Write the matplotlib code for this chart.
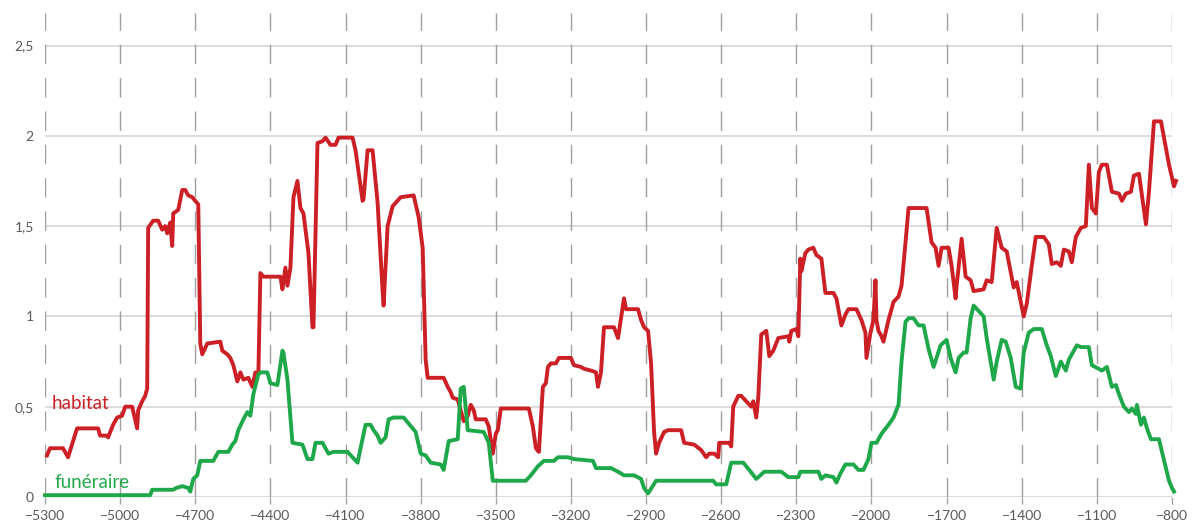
import matplotlib.pyplot as plt
from matplotlib.ticker import FuncFormatter

##### DATA #####
hab_years = [-5292, -5280, -5228, -5208, -5172, -5088, -5080, -5052, -5048, -5028,
             -5012, -4992, -4980, -4952, -4932, -4928, -4912, -4900, -4892, -4888,
             -4868, -4848, -4832, -4820, -4812, -4800, -4792, -4788, -4768, -4752,
             -4740, -4728, -4712, -4700, -4688, -4680, -4672, -4652, -4600, -4592,
             -4572, -4560, -4548, -4532, -4520, -4508, -4488, -4472, -4460, -4448,
             -4440, -4428, -4360, -4352, -4340, -4332, -4320, -4308, -4292, -4280,
             -4268, -4248, -4232, -4228, -4220, -4212, -4192, -4180, -4160, -4140,
             -4128, -4072, -4060, -4032, -4028, -4012, -3992, -3972, -3952, -3948,
             -3932, -3912, -3880, -3828, -3808, -3792, -3780, -3772, -3708, -3692,
             -3680, -3672, -3652, -3640, -3628, -3612, -3600, -3588, -3580, -3540,
             -3528, -3512, -3500, -3492, -3480, -3368, -3352, -3340, -3328, -3312,
             -3300, -3292, -3280, -3260, -3248, -3200, -3188, -3160, -3148, -3120,
             -3100, -3092, -3080, -3068, -3028, -3012, -3000, -2988, -2980, -2932,
             -2920, -2908, -2892, -2880, -2868, -2860, -2848, -2828, -2812, -2760,
             -2748, -2708, -2680, -2660, -2648, -2628, -2612, -2608, -2568, -2560,
             -2552, -2532, -2520, -2500, -2480, -2472, -2460, -2452, -2440, -2420,
             -2408, -2392, -2372, -2332, -2328, -2320, -2300, -2292, -2284, -2280,
             -2264, -2252, -2232, -2220, -2200, -2184, -2152, -2140, -2120, -2104,
             -2092, -2060, -2040, -2024, -2020, -2004, -1992, -1984, -1980, -1972,
             -1960, -1952, -1932, -1912, -1892, -1880, -1864, -1852, -1780, -1760,
             -1744, -1732, -1720, -1692, -1680, -1664, -1660, -1640, -1624, -1604,
             -1592, -1552, -1540, -1520, -1500, -1480, -1460, -1432, -1420, -1392,
             -1380, -1360, -1344, -1312, -1292, -1280, -1260, -1244, -1232, -1212,
             -1200, -1184, -1164, -1144, -1132, -1120, -1104, -1092, -1080, -1060,
             -1040, -1012, -1000, -984, -964, -952, -932, -904, -892, -872,
             -844, -832, -812, -792, -784]
hab_vals = [0.23, 0.27, 0.27, 0.22, 0.38, 0.38, 0.34, 0.34, 0.33, 0.40,
            0.44, 0.45, 0.50, 0.50, 0.38, 0.48, 0.53, 0.56, 0.60, 1.49,
            1.53, 1.53, 1.48, 1.50, 1.46, 1.52, 1.39, 1.57, 1.59, 1.70,
            1.70, 1.67, 1.66, 1.64, 1.62, 0.85, 0.79, 0.85, 0.86, 0.81,
            0.79, 0.77, 0.73, 0.64, 0.69, 0.65, 0.66, 0.61, 0.69, 0.68,
            1.24, 1.22, 1.22, 1.15, 1.27, 1.17, 1.27, 1.66, 1.75, 1.60,
            1.57, 1.35, 0.94, 0.94, 1.45, 1.96, 1.97, 1.99, 1.95, 1.95,
            1.99, 1.99, 1.92, 1.64, 1.65, 1.92, 1.92, 1.63, 1.14, 1.06,
            1.50, 1.61, 1.66, 1.67, 1.55, 1.38, 0.76, 0.66, 0.66, 0.61,
            0.58, 0.55, 0.54, 0.48, 0.42, 0.45, 0.51, 0.48, 0.43, 0.43,
            0.39, 0.24, 0.35, 0.37, 0.49, 0.49, 0.39, 0.27, 0.25, 0.61,
            0.63, 0.72, 0.74, 0.74, 0.77, 0.77, 0.73, 0.72, 0.71, 0.70,
            0.69, 0.61, 0.69, 0.94, 0.94, 0.88, 0.99, 1.10, 1.04, 1.04,
            0.98, 0.94, 0.92, 0.74, 0.36, 0.24, 0.30, 0.36, 0.37, 0.37,
            0.30, 0.29, 0.26, 0.22, 0.24, 0.24, 0.22, 0.30, 0.30, 0.28,
            0.50, 0.56, 0.56, 0.53, 0.50, 0.53, 0.44, 0.55, 0.90, 0.92,
            0.78, 0.81, 0.88, 0.89, 0.86, 0.92, 0.93, 0.89, 1.32, 1.25,
            1.35, 1.37, 1.38, 1.34, 1.32, 1.13, 1.13, 1.10, 0.95, 1.01,
            1.04, 1.04, 0.98, 0.91, 0.77, 0.91, 0.98, 1.20, 0.98, 0.92,
            0.89, 0.86, 0.98, 1.08, 1.11, 1.17, 1.41, 1.60, 1.60, 1.41,
            1.38, 1.28, 1.38, 1.38, 1.28, 1.10, 1.17, 1.43, 1.22, 1.20,
            1.14, 1.15, 1.20, 1.19, 1.49, 1.38, 1.36, 1.16, 1.19, 1.00,
            1.07, 1.28, 1.44, 1.44, 1.40, 1.29, 1.30, 1.28, 1.37, 1.36,
            1.30, 1.44, 1.49, 1.50, 1.84, 1.60, 1.57, 1.80, 1.84, 1.84,
            1.69, 1.68, 1.64, 1.68, 1.69, 1.78, 1.79, 1.51, 1.69, 2.08,
            2.08, 1.99, 1.84, 1.72, 1.75]

fun_years = [-5300, -4880, -4872, -4788, -4776, -4752, -4728, -4720, -4708, -4692,
             -4680, -4628, -4608, -4568, -4552, -4540, -4528, -4508, -4492, -4480,
             -4468, -4448, -4440, -4412, -4400, -4372, -4352, -4348, -4332, -4312,
             -4272, -4252, -4232, -4220, -4192, -4180, -4168, -4148, -4092, -4072,
             -4052, -4040, -4020, -4000, -3988, -3972, -3960, -3940, -3928, -3908,
             -3868, -3820, -3800, -3780, -3760, -3720, -3708, -3688, -3652, -3640,
             -3628, -3612, -3548, -3528, -3512, -3380, -3360, -3332, -3308, -3268,
             -3252, -3212, -3188, -3112, -3100, -3040, -3012, -2988, -2948, -2920,
             -2908, -2892, -2860, -2632, -2620, -2580, -2560, -2512, -2488, -2460,
             -2428, -2360, -2332, -2292, -2284, -2212, -2200, -2184, -2152, -2140,
             -2124, -2104, -2072, -2052, -2032, -2012, -2000, -1980, -1960, -1932,
             -1912, -1892, -1880, -1864, -1852, -1832, -1812, -1792, -1772, -1752,
             -1724, -1700, -1684, -1664, -1652, -1632, -1620, -1604, -1592, -1572,
             -1552, -1540, -1512, -1500, -1480, -1464, -1444, -1424, -1404, -1392,
             -1372, -1352, -1320, -1300, -1284, -1264, -1244, -1224, -1212, -1180,
             -1164, -1132, -1120, -1080, -1060, -1040, -1024, -1012, -992, -972,
             -960, -944, -940, -924, -912, -900, -884, -852, -840, -824,
             -812, -800, -792]
fun_vals = [0.01, 0.01, 0.04, 0.04, 0.05, 0.06, 0.05, 0.03, 0.10, 0.12,
            0.20, 0.20, 0.25, 0.25, 0.29, 0.31, 0.37, 0.43, 0.47, 0.45,
            0.57, 0.68, 0.69, 0.69, 0.63, 0.62, 0.81, 0.80, 0.65, 0.30,
            0.29, 0.21, 0.21, 0.30, 0.30, 0.27, 0.24, 0.25, 0.25, 0.22,
            0.19, 0.27, 0.40, 0.40, 0.37, 0.34, 0.30, 0.33, 0.43, 0.44,
            0.44, 0.36, 0.24, 0.23, 0.19, 0.18, 0.15, 0.31, 0.32, 0.60,
            0.61, 0.37, 0.36, 0.30, 0.09, 0.09, 0.12, 0.17, 0.20, 0.20,
            0.22, 0.22, 0.21, 0.20, 0.16, 0.16, 0.14, 0.12, 0.12, 0.10,
            0.05, 0.02, 0.09, 0.09, 0.07, 0.07, 0.19, 0.19, 0.15, 0.10,
            0.14, 0.14, 0.11, 0.11, 0.14, 0.14, 0.10, 0.12, 0.11, 0.08,
            0.13, 0.18, 0.18, 0.15, 0.15, 0.21, 0.30, 0.30, 0.35, 0.40,
            0.44, 0.51, 0.75, 0.97, 0.99, 0.99, 0.95, 0.95, 0.82, 0.72,
            0.84, 0.87, 0.77, 0.69, 0.77, 0.80, 0.80, 0.99, 1.06, 1.03,
            1.00, 0.88, 0.65, 0.75, 0.87, 0.86, 0.77, 0.61, 0.60, 0.80,
            0.91, 0.93, 0.93, 0.84, 0.78, 0.67, 0.75, 0.70, 0.76, 0.84,
            0.83, 0.83, 0.73, 0.70, 0.72, 0.61, 0.62, 0.57, 0.50, 0.47,
            0.49, 0.46, 0.51, 0.40, 0.44, 0.38, 0.32, 0.32, 0.25, 0.16,
            0.09, 0.05, 0.03]

x_ticks = [-5300, -5000, -4700, -4400, -4100, -3800, -3500, -3200, -2900,
           -2600, -2300, -2000, -1700, -1400, -1100, -800]
y_ticks = [0, 0.5, 1, 1.5, 2, 2.5]
##### END DATA #####

red = '#cc1f26'
green = '#1fa84a'
grey_txt = '#595959'

plt.rcParams['font.family'] = ['Lato', 'DejaVu Sans']

fig = plt.figure(figsize=(11.92, 5.30), dpi=100)
ax = fig.add_axes([45/1192, 33/530, 1127/1192, 484/530])

# grid: solid horizontal, dashed vertical
for y in y_ticks:
	ax.axhline(y, color='#d9d9d9', lw=1.3, zorder=1)
for x in x_ticks:
	ax.axvline(x, color='#a39d9d', lw=1.0, ls=(0, (14, 10)), zorder=1)

ax.plot(hab_years, hab_vals, color=red, lw=2.8, solid_joinstyle='round', zorder=3, clip_on=False)
ax.plot(fun_years, fun_vals, color=green, lw=2.8, solid_joinstyle='round', zorder=3, clip_on=False)

ax.text(-5272, 0.52, 'habitat', color=red, fontsize=13.5, va='center', ha='left')
ax.text(-5262, 0.08, 'funéraire', color=green, fontsize=13.5, va='center', ha='left')

ax.set_xlim(-5300, -800)
ax.set_ylim(0, 2.68)
ax.set_xticks(x_ticks)
ax.set_yticks(y_ticks)
ax.yaxis.set_major_formatter(FuncFormatter(lambda v, p: ('%g' % v).replace('.', ',')))
ax.tick_params(axis='x', colors='#a6a6a6', length=5, width=1, labelcolor=grey_txt,
               labelsize=10, pad=4, direction='out')
ax.tick_params(axis='y', length=0, labelcolor=grey_txt, labelsize=10, pad=8)
for s in ax.spines.values():
	s.set_visible(False)

fig.savefig('out.png', dpi=100)
